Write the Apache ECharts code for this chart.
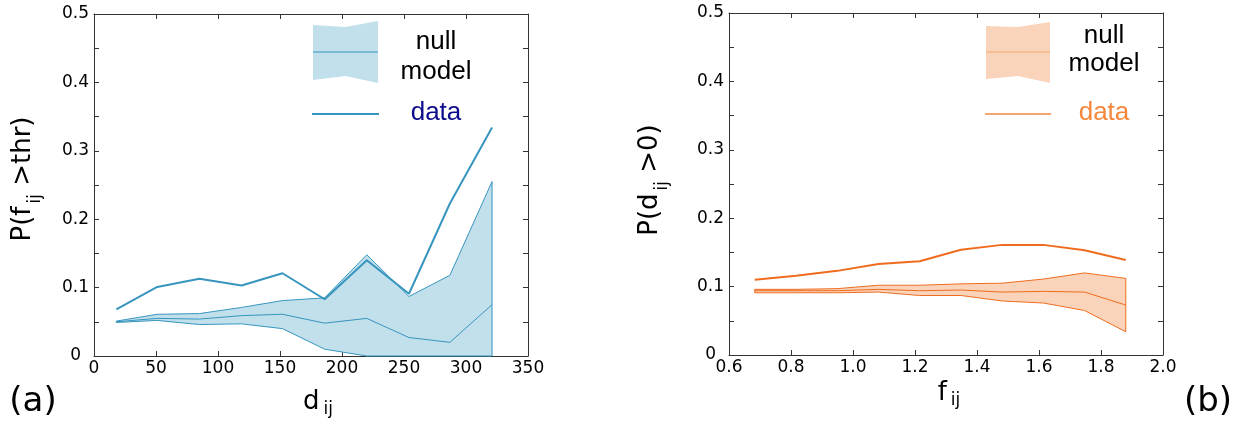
<!DOCTYPE html>
<html>
<head>
<meta charset="utf-8">
<script src="https://cdn.jsdelivr.net/npm/echarts@6/dist/echarts.min.js"></script>
<style>
  html, body { margin: 0; padding: 0; background: #fff; }
  #chart { width: 1237px; height: 422px; }
</style>
</head>
<body>
<div id="chart"></div>
<script>
// (a) probability vs distance bins
const dBins = [18, 51, 85, 119, 152, 186, 220, 254, 287, 321];
const dData = [0.068, 0.101, 0.113, 0.103, 0.121, 0.083, 0.140, 0.091, 0.223, 0.334];
const dNullHi = [0.051, 0.061, 0.062, 0.071, 0.081, 0.085, 0.148, 0.087, 0.118, 0.255];
const dNullMean = [0.050, 0.055, 0.054, 0.059, 0.061, 0.048, 0.055, 0.027, 0.020, 0.075];
const dNullLo = [0.049, 0.052, 0.046, 0.047, 0.040, 0.010, 0, 0, 0, 0];

// (b) probability vs flux bins
const fBins = [0.683, 0.816, 0.949, 1.082, 1.215, 1.348, 1.481, 1.614, 1.747, 1.880];
const fData = [0.110, 0.116, 0.123, 0.133, 0.137, 0.154, 0.161, 0.161, 0.153, 0.139];
const fNullHi = [0.096, 0.096, 0.097, 0.102, 0.102, 0.104, 0.105, 0.111, 0.120, 0.112];
const fNullMean = [0.094, 0.094, 0.094, 0.096, 0.094, 0.095, 0.092, 0.093, 0.092, 0.073];
const fNullLo = [0.091, 0.091, 0.091, 0.092, 0.087, 0.087, 0.079, 0.076, 0.065, 0.034];

// tick labels
const dTicks = ['0', '50', '100', '150', '200', '250', '300', '350'];
const fTicks = ['0.6', '0.8', '1.0', '1.2', '1.4', '1.6', '1.8', '2.0'];
const pTicks = ['0', '0.1', '0.2', '0.3', '0.4', '0.5'];

const BLUE = '#3795be';
const BLUE_FILL = '#c1e0ec';
const ORANGE = '#ef6c1f';
const ORANGE_FILL = '#f9d4ba';
const FRAME = '#333';
const TICK_FONT = { fontFamily: 'DejaVu Sans', fontSize: 17, color: '#000' };

const zip = (xs, ys) => xs.map((x, i) => [x, ys[i]]);

function xAxes(grid, min, max, interval, labels) {
  const base = {
    gridIndex: grid, type: 'value', min: min, max: max, interval: interval,
    splitLine: { show: false },
    axisLine: { show: true, onZero: false, lineStyle: { color: FRAME, width: 1 } },
    axisTick: { show: true, inside: true, length: 5, lineStyle: { color: FRAME } }
  };
  return [
    Object.assign({}, base, {
      position: 'bottom',
      axisLabel: Object.assign({
        margin: 4,
        formatter: v => labels[Math.round((v - min) / interval)] || ''
      }, TICK_FONT)
    }),
    Object.assign({}, base, { position: 'top', axisLabel: { show: false } })
  ];
}

function yAxes(grid) {
  const base = {
    gridIndex: grid, type: 'value', min: 0, max: 0.5, interval: 0.1,
    splitLine: { show: false },
    axisLine: { show: true, onZero: false, lineStyle: { color: FRAME, width: 1 } },
    axisTick: { show: true, inside: true, length: 5, lineStyle: { color: FRAME } },
    minorTick: { show: true, splitNumber: 2, length: 5, lineStyle: { color: FRAME } }
  };
  return [
    Object.assign({}, base, {
      position: 'left',
      axisLabel: Object.assign({
        margin: 5,
        // matplotlib nudges the zero label inwards a little
        formatter: v => v === 0 ? '{z|0}' : pTicks[Math.round(v * 10)],
        rich: { z: { fontFamily: 'DejaVu Sans', fontSize: 17, color: '#000', padding: [0, 8, 0, 0] } }
      }, TICK_FONT)
    }),
    Object.assign({}, base, { position: 'right', axisLabel: { show: false } })
  ];
}

function panelSeries(axisIdx, xs, data, hi, mean, lo, col, fill) {
  const ax = { xAxisIndex: axisIdx, yAxisIndex: axisIdx };
  return [
    // null model band: polygon through the upper values and back along the lower ones
    Object.assign({
      type: 'custom', z: 1, silent: true,
      data: [[xs[0], lo[0]]],
      renderItem: function (params, api) {
        const upper = xs.map((x, i) => api.coord([x, hi[i]]));
        const lower = xs.map((x, i) => api.coord([x, lo[i]])).reverse();
        return {
          type: 'polygon',
          shape: { points: upper.concat(lower) },
          style: { fill: fill, stroke: col, lineWidth: 1 }
        };
      }
    }, ax),
    Object.assign({
      type: 'line', data: zip(xs, mean), symbol: 'none',
      lineStyle: { color: col, width: 1 }, z: 3
    }, ax),
    Object.assign({
      type: 'line', data: zip(xs, data), symbol: 'none',
      lineStyle: { color: col, width: 2 }, z: 4
    }, ax)
  ];
}

function legend(x0, x1, ys, fill, lineCol, textCol, txtX, textYs) {
  const xm = (x0 + x1) / 2;
  return [
    { type: 'polygon', shape: { points: [[x0, ys[0]], [xm, ys[1]], [x1, ys[2]], [x1, ys[3]], [xm, ys[4]], [x0, ys[5]]] },
      style: { fill: fill } },
    { type: 'line', shape: { x1: x0, y1: 52, x2: x1, y2: 52 }, style: { stroke: lineCol, lineWidth: 1 } },
    { type: 'line', shape: { x1: x0 - 1, y1: 114, x2: x1 + 1, y2: 114 }, style: { stroke: lineCol, lineWidth: 2 } },
    { type: 'text', x: txtX, y: textYs[0], style: { text: 'null', font: '26px "Liberation Sans"', fill: '#000', align: 'center', verticalAlign: 'middle' } },
    { type: 'text', x: txtX, y: textYs[1], style: { text: 'model', font: '26px "Liberation Sans"', fill: '#000', align: 'center', verticalAlign: 'middle' } },
    { type: 'text', x: txtX, y: textYs[2], style: { text: 'data', font: '26px "Liberation Sans"', fill: textCol, align: 'center', verticalAlign: 'middle' } }
  ];
}

const richLabel = {
  a: { fontFamily: 'DejaVu Sans', fontSize: 26, color: '#000' },
  s: { fontFamily: 'DejaVu Sans', fontSize: 17, color: '#000', padding: [16, 0, 0, 4] },
  v: { fontFamily: 'DejaVu Sans', fontSize: 17, color: '#000', padding: [26, 0, 0, 3] }
};

function axisTitle(x, y, text, rotate) {
  return {
    type: 'text', x: x, y: y, rotation: rotate ? Math.PI / 2 : 0,
    style: { text: text, rich: richLabel, align: 'center', verticalAlign: 'middle' }
  };
}

const chart = echarts.init(document.getElementById('chart'));
chart.setOption({
  animation: false,
  grid: [
    { left: 94, top: 14, width: 434, height: 342, outerBoundsMode: 'none' },
    { left: 729, top: 13, width: 434, height: 342, outerBoundsMode: 'none' }
  ],
  xAxis: xAxes(0, 0, 350, 50, dTicks).concat(xAxes(1, 0.6, 2.0, 0.2, fTicks)),
  yAxis: yAxes(0).concat(yAxes(1)),
  series: panelSeries(0, dBins, dData, dNullHi, dNullMean, dNullLo, BLUE, BLUE_FILL)
    .concat(panelSeries(2, fBins, fData, fNullHi, fNullMean, fNullLo, ORANGE, ORANGE_FILL)),
  graphic: [
    ...legend(313, 378, [25, 27, 21, 83, 76, 80], BLUE_FILL, BLUE, '#0b0b8c', 436, [42, 72, 113]),
    ...legend(986, 1050, [26, 27, 22, 83, 76, 79], ORANGE_FILL, '#f4a670', '#f5883c', 1104, [36, 64, 113]),
    axisTitle(23, 179, '{a|P(f}{v|ij}{a| >thr)}', true),
    axisTitle(650, 180, '{a|P(d}{v|ij}{a| >0)}', true),
    axisTitle(318, 402, '{a|d}{s|ij}', false),
    axisTitle(949, 393, '{a|f}{s|ij}', false),
    { type: 'text', x: 33, y: 402, style: { text: '(a)', font: '34px "DejaVu Sans"', fill: '#000', align: 'center', verticalAlign: 'middle' } },
    { type: 'text', x: 1208, y: 402, style: { text: '(b)', font: '34px "DejaVu Sans"', fill: '#000', align: 'center', verticalAlign: 'middle' } }
  ]
});
</script>
</body>
</html>
